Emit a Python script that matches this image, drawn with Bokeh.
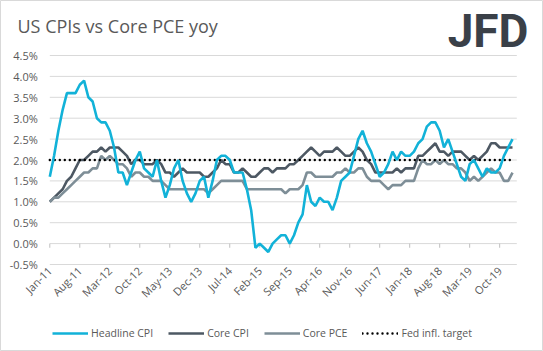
import pandas as pd
from bokeh.plotting import figure
from bokeh.models import (FixedTicker, PrintfTickFormatter, Legend, LegendItem,
                          Label, ColumnDataSource, Range1d)
from bokeh.embed import file_html
from bokeh.resources import INLINE

# ---------------- data (monthly, Jan-2011 .. Jan-2020, % yoy) ----------------
headline_cpi = [
    1.6, 2.1, 2.7, 3.2, 3.6, 3.6, 3.6, 3.8, 3.9, 3.5, 3.4, 3.0,
    2.9, 2.9, 2.7, 2.3, 1.7, 1.7, 1.4, 1.7, 2.0, 2.2, 1.8, 1.7,
    1.6, 2.0, 1.5, 1.1, 1.4, 1.8, 2.0, 1.5, 1.2, 1.0, 1.2, 1.5,
    1.6, 1.1, 1.5, 2.0, 2.1, 2.1, 2.0, 1.7, 1.7, 1.7, 1.3, 0.8,
    -0.1, 0.0, -0.1, -0.2, 0.0, 0.1, 0.2, 0.2, 0.0, 0.2, 0.5, 0.7,
    1.4, 1.0, 0.9, 1.1, 1.0, 1.0, 0.8, 1.1, 1.5, 1.6, 1.7, 2.1,
    2.5, 2.7, 2.4, 2.2, 1.9, 1.6, 1.7, 1.9, 2.2, 2.0, 2.2, 2.1,
    2.1, 2.2, 2.4, 2.5, 2.8, 2.9, 2.9, 2.7, 2.3, 2.5, 2.2, 1.9,
    1.6, 1.5, 1.9, 2.0, 1.8, 1.6, 1.8, 1.7, 1.7, 1.8, 2.1, 2.3,
    2.5,
]
core_cpi = [
    1.0, 1.1, 1.2, 1.3, 1.5, 1.6, 1.8, 2.0, 2.0, 2.1, 2.2, 2.2,
    2.3, 2.2, 2.3, 2.3, 2.3, 2.2, 2.1, 1.9, 2.0, 2.0, 1.9, 1.9,
    1.9, 2.0, 1.9, 1.7, 1.7, 1.6, 1.7, 1.8, 1.7, 1.7, 1.7, 1.7,
    1.6, 1.6, 1.7, 1.8, 2.0, 1.9, 1.9, 1.7, 1.7, 1.8, 1.7, 1.6,
    1.6, 1.7, 1.8, 1.8, 1.7, 1.8, 1.8, 1.8, 1.9, 1.9, 2.0, 2.1,
    2.2, 2.3, 2.2, 2.1, 2.2, 2.2, 2.2, 2.3, 2.2, 2.1, 2.1, 2.2,
    2.3, 2.2, 2.0, 1.9, 1.7, 1.7, 1.7, 1.7, 1.7, 1.8, 1.7, 1.8,
    1.8, 1.8, 2.1, 2.1, 2.2, 2.3, 2.4, 2.2, 2.2, 2.1, 2.2, 2.2,
    2.2, 2.1, 2.0, 2.1, 2.0, 2.1, 2.2, 2.4, 2.4, 2.3, 2.3, 2.3,
    2.3,
]
core_pce = [
    1.0, 1.1, 1.1, 1.2, 1.3, 1.4, 1.5, 1.6, 1.7, 1.7, 1.8, 1.8,
    2.1, 2.0, 2.1, 2.0, 1.9, 1.9, 1.8, 1.6, 1.7, 1.7, 1.6, 1.6,
    1.5, 1.5, 1.5, 1.4, 1.3, 1.3, 1.3, 1.3, 1.3, 1.3, 1.3, 1.3,
    1.3, 1.2, 1.3, 1.4, 1.5, 1.5, 1.5, 1.5, 1.5, 1.5, 1.3, 1.3,
    1.3, 1.3, 1.3, 1.3, 1.3, 1.3, 1.3, 1.2, 1.3, 1.3, 1.3, 1.4,
    1.7, 1.7, 1.6, 1.6, 1.6, 1.6, 1.6, 1.7, 1.7, 1.8, 1.7, 1.7,
    1.8, 1.8, 1.6, 1.5, 1.5, 1.5, 1.4, 1.3, 1.4, 1.4, 1.4, 1.5,
    1.5, 1.5, 1.8, 2.0, 1.9, 1.9, 2.0, 1.9, 2.0, 1.9, 1.9, 1.8,
    1.8, 1.7, 1.5, 1.6, 1.5, 1.6, 1.7, 1.8, 1.7, 1.7, 1.5, 1.5,
    1.7,
]
fed_target_value = 2.0
fed_target = [fed_target_value] * len(headline_cpi)

months = pd.date_range("2011-01-01", periods=len(headline_cpi), freq="MS")
x_tick_labels = ["Jan-11", "Aug-11", "Mar-12", "Oct-12", "May-13", "Dec-13",
                 "Jul-14", "Feb-15", "Sep-15", "Apr-16", "Nov-16", "Jun-17",
                 "Jan-18", "Aug-18", "Mar-19", "Oct-19"]
x_tick_step = 7
y_ticks = [-0.5, 0.0, 0.5, 1.0, 1.5, 2.0, 2.5, 3.0, 3.5, 4.0, 4.5]

series_names = ["Headline CPI", "Core CPI", "Core PCE", "Fed infl. target"]
title_text = "US CPIs vs Core PCE yoy"
logo_text = "JFD"

# ---------------- layout constants (pixels) ----------------
W, H = 543, 351
PLOT_L, PLOT_R, PLOT_T, PLOT_B = 49.3, 516.3, 55.0, 264.0
TEXT = "#595959"
FONT = "Open Sans"
styles = [
    dict(line_color="#12B2D8", line_width=2.6),
    dict(line_color="#4D5863", line_width=2.6),
    dict(line_color="#7E8E97", line_width=2.6),
    dict(line_color="black", line_width=2.4, line_dash="0 5", line_cap="round"),
]

n = len(months)
x_lo, x_hi = 0, n                      # plotted category span
y_lo, y_hi = y_ticks[0], y_ticks[-1]
px_x = (PLOT_R - PLOT_L) / (x_hi - x_lo)
px_y = (PLOT_B - PLOT_T) / (y_hi - y_lo)
xr = Range1d(x_lo - PLOT_L / px_x, x_hi + (W - PLOT_R) / px_x)
yr = Range1d(y_lo - (H - PLOT_B) / px_y, y_hi + PLOT_T / px_y)

p = figure(width=W, height=H, output_backend="svg", toolbar_location=None,
           x_range=xr, y_range=yr, title_location=None, min_border=0,
           min_border_left=0, min_border_right=0, min_border_top=0,
           min_border_bottom=0, background_fill_color="white",
           border_fill_color="white")
p.outline_line_color = "#D9D9D9"
p.grid.visible = False

idx = list(range(n))
src = ColumnDataSource(dict(x=idx, headline=headline_cpi, core=core_cpi,
                            pce=core_pce, target=fed_target))

# horizontal gridlines limited to the plot area
p.segment(x0=[x_lo] * len(y_ticks), x1=[x_hi] * len(y_ticks), y0=y_ticks, y1=y_ticks,
          line_color="#D9D9D9", line_width=1)

# y axis drawn at the plot-area edge
p.yaxis.fixed_location = x_lo
p.yaxis.ticker = FixedTicker(ticks=y_ticks)
p.yaxis.formatter = PrintfTickFormatter(format="%.1f%%")
p.yaxis.axis_line_color = None
p.yaxis.major_tick_line_color = None
p.yaxis.minor_tick_line_color = None
p.yaxis.major_tick_out = 0
p.yaxis.major_tick_in = 0
p.yaxis.major_label_standoff = 12
p.yaxis.major_label_text_font = FONT
p.yaxis.major_label_text_font_size = "11px"
p.yaxis.major_label_text_color = TEXT

# x axis labels below the plot area
x_ticks = [i * x_tick_step for i in range(len(x_tick_labels))]
p.xaxis.fixed_location = y_lo
p.xaxis.ticker = FixedTicker(ticks=x_ticks)
p.xaxis.major_label_overrides = {t: lab for t, lab in zip(x_ticks, x_tick_labels)}
p.xaxis.major_label_orientation = 0.785398
p.xaxis.axis_line_color = None
p.xaxis.major_tick_line_color = None
p.xaxis.minor_tick_line_color = None
p.xaxis.major_tick_out = 0
p.xaxis.major_tick_in = 0
p.xaxis.major_label_standoff = 4
p.xaxis.major_label_text_font = FONT
p.xaxis.major_label_text_font_size = "11px"
p.xaxis.major_label_text_color = TEXT

# category-axis tick marks on the 0% line
p.segment(x0=x_ticks, x1=x_ticks, y0=[0.0] * len(x_ticks), y1=[-0.1] * len(x_ticks),
          line_color="#BFBFBF", line_width=1)

r_core = p.line("x", "core", source=src, **styles[1])
r_pce = p.line("x", "pce", source=src, **styles[2])
r_tgt = p.line("x", "target", source=src, **styles[3])
r_head = p.line("x", "headline", source=src, **styles[0])

legend = Legend(items=[LegendItem(label=series_names[0], renderers=[r_head]),
                       LegendItem(label=series_names[1], renderers=[r_core]),
                       LegendItem(label=series_names[2], renderers=[r_pce]),
                       LegendItem(label=series_names[3], renderers=[r_tgt])],
                orientation="horizontal", location=(52, 11),
                border_line_color=None, background_fill_alpha=0,
                label_text_font=FONT, label_text_font_size="10.5px",
                label_text_color=TEXT, glyph_width=36, glyph_height=14,
                label_height=14, spacing=15, label_standoff=3,
                padding=2, margin=0)
p.add_layout(legend)

# title and logo
p.add_layout(Label(x=17, y=H - 25, x_units="screen", y_units="screen",
                   text=title_text, text_font=FONT, text_font_size="18px",
                   text_color=TEXT, text_baseline="alphabetic"))
p.add_layout(Label(x=528, y=H - 30, x_units="screen", y_units="screen",
                   text=logo_text, text_font="Roboto", text_font_style="bold",
                   text_font_size="46px", text_color="#3A4048",
                   text_align="right", text_baseline="alphabetic"))

open("out.html", "w").write(file_html(p, INLINE))
